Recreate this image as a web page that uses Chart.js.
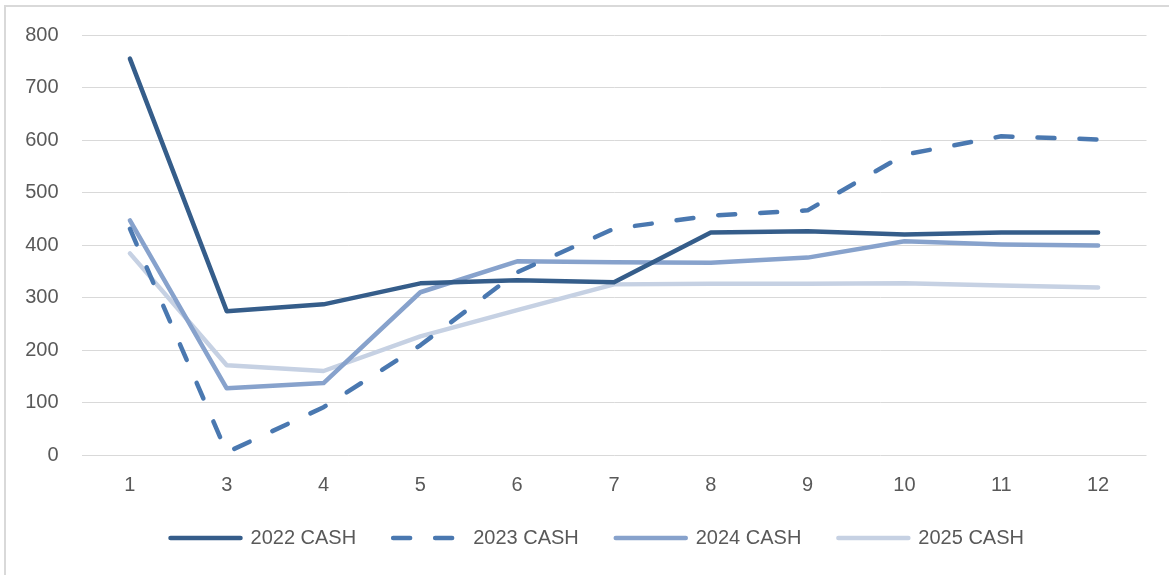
<!DOCTYPE html>
<html>
<head>
<meta charset="utf-8">
<script src="https://cdn.jsdelivr.net/npm/chart.js@4/dist/chart.umd.min.js"></script>
<style>
html,body{margin:0;padding:0;background:#fff;}
#frame{position:absolute;left:4px;top:5px;width:1200px;height:600px;border-left:2px solid #d9d9d9;border-top:2px solid #d9d9d9;}
#wrap{position:absolute;left:0;top:0;width:1169px;height:575px;}
</style>
</head>
<body>
<div id="frame"></div>
<div id="wrap"><canvas id="c"></canvas></div>
<script>
const categories = ['1','3','4','5','6','7','8','9','10','11','12'];
const yTicks = [0,100,200,300,400,500,600,700,800];
const seriesNames = ['2022 CASH','2023 CASH','2024 CASH','2025 CASH'];
const cash2022 = [755,274,287,327,333,329,424,426,420,424,424];
const cash2023 = [431,5,91,209,348,431,456,466,572,607,601];
const cash2024 = [447,127,137,310,369,367,366,376,407,401,399];
const cash2025 = [384,171,160,226,276,325,326,326,327,323,319];

const colors = ['#355d8a','#4a78b0','#87a2cc','#c6d1e3'];
const values = [cash2022,cash2023,cash2024,cash2025];

const datasets = seriesNames.map((name,i)=>({
  label: name,
  data: values[i],
  borderColor: colors[i],
  backgroundColor: colors[i],
  borderWidth: 4.5,
  borderCapStyle: 'round',
  borderJoinStyle: 'round',
  borderDash: i===1 ? [17,25] : [],
  pointRadius: 0,
  pointHoverRadius: 0,
  pointBorderWidth: 4.5,
  pointStyle: 'line',
  tension: 0,
  fill: false
}));

const FONT = "'Liberation Sans', Arial, sans-serif";

const legendShift = {
  id: 'legendShift',
  afterLayout(chart) {
    const lg = chart.legend;
    if (!lg) return;
    lg.top -= 17; lg.bottom -= 17;
    lg.left += 24; lg.right += 24;
  }
};

new Chart(document.getElementById('c'), {
  type: 'line',
  data: { labels: categories, datasets },
  plugins: [legendShift],
  options: {
    responsive: true,
    maintainAspectRatio: false,
    animation: false,
    events: [],
    layout: { padding: { left: 0, right: 22.5, top: 34, bottom: 0 } },
    plugins: {
      tooltip: { enabled: false },
      legend: {
        position: 'bottom',
        labels: {
          usePointStyle: true,
          pointStyleWidth: 70,
          boxHeight: 10,
          padding: 37,
          color: '#595959',
          font: { family: FONT, size: 20 },
          generateLabels(chart) {
            const items = Chart.defaults.plugins.legend.labels.generateLabels(chart);
            items.forEach(it => {
              const ds = chart.data.datasets[it.datasetIndex];
              it.lineDash = ds.borderDash;
              it.lineCap = 'round';
              it.lineWidth = ds.borderWidth;
              it.strokeStyle = ds.borderColor;
            });
            return items;
          }
        }
      }
    },
    scales: {
      x: {
        offset: true,
        grid: { display: false, drawTicks: false },
        border: { display: false },
        ticks: { color: '#595959', font: { family: FONT, size: 20 }, padding: 18, maxRotation: 0 },
        afterFit: (s) => { s.height = 53; }
      },
      y: {
        min: 0, max: 800,
        afterBuildTicks: (s) => { s.ticks = yTicks.map(v => ({ value: v })); },
        grid: { color: '#d9d9d9', lineWidth: 1, drawTicks: false },
        border: { display: false },
        ticks: { color: '#595959', font: { family: FONT, size: 20 }, padding: 23 },
        afterFit: (s) => { s.width = 81.5; }
      }
    }
  }
});
</script>
</body>
</html>
